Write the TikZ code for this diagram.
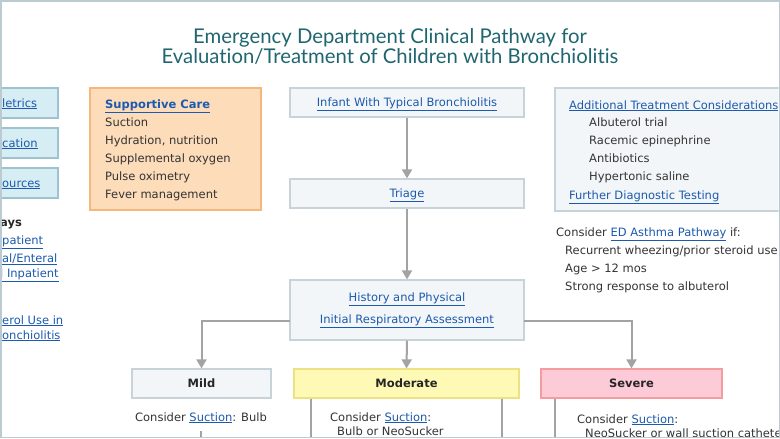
\documentclass[tikz,border=0pt]{standalone}
\usepackage{fontspec}
\setmainfont{DejaVu Sans}
\newfontfamily\titlefont[Ligatures={NoCommon}]{Lato}
\usetikzlibrary{arrows.meta}
\definecolor{linkblue}{HTML}{1B5AAE}
\definecolor{txtc}{HTML}{333333}
\definecolor{titlec}{HTML}{1F6670}
\definecolor{framec}{HTML}{BCCBD1}
\definecolor{grayfill}{HTML}{F3F6F8}
\definecolor{grayline}{HTML}{C8D3D9}
\definecolor{bluefill}{HTML}{D6EDF4}
\definecolor{blueline}{HTML}{9CC3CF}
\definecolor{peachfill}{HTML}{FDDCBA}
\definecolor{peachline}{HTML}{F6B77C}
\definecolor{yellowfill}{HTML}{FEFAB6}
\definecolor{yellowline}{HTML}{EDE184}
\definecolor{pinkfill}{HTML}{FDCAD7}
\definecolor{pinkline}{HTML}{F49C9E}
\definecolor{arrowc}{HTML}{A3A3A3}
\newcommand\lnk[1]{\textcolor{linkblue}{\underline{#1}}}
\tikzset{
  box/.style={draw, line width=1.2pt, rectangle, inner sep=0pt},
  graybox/.style={box, fill=grayfill, draw=grayline},
  bluebox/.style={box, fill=bluefill, draw=blueline},
  tl/.style={anchor=base west, text=txtc, inner sep=0pt},
  tc/.style={anchor=base, text=txtc, inner sep=0pt},
  flow/.style={draw=arrowc, line width=2pt, -{Triangle[width=10pt,length=9pt]}},
  plain/.style={draw=arrowc, line width=2pt},
  sev/.style={font=\fontsize{11.5}{14}\selectfont\bfseries, text=black!85},
  ttl/.style={anchor=base, text=titlec, inner sep=0pt, font=\titlefont\fontsize{20.3}{24}\selectfont}
}
\begin{document}
\begin{tikzpicture}[x=1pt,y=-1pt, font=\fontsize{11.5}{14}\selectfont]
\useasboundingbox (0,0) rectangle (780,439);
\fill[white] (0,0) rectangle (780,439);
\begin{scope}
\clip (1.5,1.5) rectangle (778.5,436.5);
% title
\node[ttl] (t1) at (390,43) {Emergency Department Clinical Pathway for};
\node[ttl] (t2) at (390,63) {Evaluation/Treatment of Children with Bronchiolitis};
% left side boxes
\node[bluebox, minimum width=80pt, minimum height=30pt] (lb1) at (18,103) {};
\node[bluebox, minimum width=80pt, minimum height=30pt] (lb2) at (18,143) {};
\node[bluebox, minimum width=80pt, minimum height=30pt] (lb3) at (18,183) {};
\node[tl] (l1) at (2,107) {\lnk{letrics}};
\node[tl] (l2) at (2,147) {\lnk{cation}};
\node[tl] (l3) at (2,187) {\lnk{ources}};
\node[tl, font=\fontsize{11.5}{14}\selectfont\bfseries, text=black!85] (l4) at (0,226) {ays};
\node[tl] (l5) at (2,244) {\lnk{patient}};
\node[tl] (l6) at (2,262) {\lnk{al/Enteral}};
\node[tl] (l7) at (0,277) {\lnk{l Inpatient}};
\node[tl] (l8) at (2,324) {\lnk{erol Use in}};
\node[tl] (l9) at (2,339) {\lnk{onchiolitis}};
% supportive care
\node[box, fill=peachfill, draw=peachline, minimum width=171pt, minimum height=122pt] (sup) at (175.5,149) {};
\node[tl, font=\fontsize{11.5}{14}\selectfont\bfseries] (s0) at (105,108) {\lnk{Supportive Care}};
\node[tl] (s1) at (105,126) {Suction};
\node[tl] (s2) at (105,144) {Hydration, nutrition};
\node[tl] (s3) at (105,162) {Supplemental oxygen};
\node[tl] (s4) at (105,180) {Pulse oximetry};
\node[tl] (s5) at (105,198) {Fever management};
% central flow
\node[graybox, minimum width=234pt, minimum height=29pt] (infant) at (407,102.5) {};
\node[tc] (infantt) at (407,106) {\lnk{Infant With Typical Bronchiolitis}};
\node[graybox, minimum width=234pt, minimum height=29pt] (triage) at (407,193.5) {};
\node[tc] (triaget) at (407,197) {\lnk{Triage}};
\node[graybox, minimum width=234pt, minimum height=60pt] (hist) at (407,310) {};
\node[tc] (h1) at (407,301) {\lnk{History and Physical}};
\node[tc] (h2) at (407,323) {\lnk{Initial Respiratory Assessment}};
\draw[flow] (infant.south) -- (triage.north);
\draw[flow] (triage.south) -- (hist.north);
% severity boxes
\node[graybox, minimum width=139pt, minimum height=29pt, sev] (mild) at (201.5,383.5) {Mild};
\node[box, fill=yellowfill, draw=yellowline, minimum width=225pt, minimum height=29pt, sev] (mod) at (406.5,383.5) {Moderate};
\node[box, fill=pinkfill, draw=pinkline, minimum width=181pt, minimum height=29pt, sev] (sevr) at (631.5,383.5) {Severe};
\coordinate (hl) at (290,321);
\coordinate (hr) at (524,321);
\draw[flow] (hl) -| (mild.north);
\draw[flow] (hist.south) -- (mod.north);
\draw[flow] (hr) -| (sevr.north);
% below severity
\node[tc] (m1) at (201,421) {Consider \lnk{Suction}: Bulb};
\coordinate (mstart) at (201,431);
\coordinate (mend) at (201,445);
\draw[plain] (mstart) -- (mend);
\coordinate (ma) at (311,398.5);
\coordinate (mb) at (502,398.5);
\coordinate (maend) at (311,445);
\coordinate (mbend) at (502,445);
\draw[plain] (ma) -- (maend);
\draw[plain] (mb) -- (mbend);
\node[tl] (mo1) at (330,421) {Consider \lnk{Suction}:};
\node[tl] (mo2) at (337,435) {Bulb or NeoSucker};
\coordinate (sa) at (555,398.5);
\coordinate (saend) at (555,445);
\draw[plain] (sa) -- (saend);
\node[tl] (se1) at (577,423) {Consider \lnk{Suction}:};
\node[tl] (se2) at (585,437.5) {NeoSucker or wall suction catheter};
% right box
\node[graybox, minimum width=250pt, minimum height=123pt] (add) at (680,149.5) {};
\node[tl] (a0) at (569,109) {\lnk{Additional Treatment Considerations}};
\node[tl] (a1) at (589,126) {Albuterol trial};
\node[tl] (a2) at (589,144) {Racemic epinephrine};
\node[tl] (a3) at (589,162) {Antibiotics};
\node[tl] (a4) at (589,180) {Hypertonic saline};
\node[tl] (a5) at (569,199) {\lnk{Further Diagnostic Testing}};
\node[tl] (c0) at (556,236) {Consider \lnk{ED Asthma Pathway} if:};
\node[tl] (c1) at (565,254) {Recurrent wheezing/prior steroid use};
\node[tl] (c2) at (565,272) {Age > 12 mos};
\node[tl] (c3) at (565,290) {Strong response to albuterol};
\end{scope}
\draw[framec, line width=1.5pt] (0.75,0.75) rectangle (779.25,437.5);
\end{tikzpicture}
\end{document}
